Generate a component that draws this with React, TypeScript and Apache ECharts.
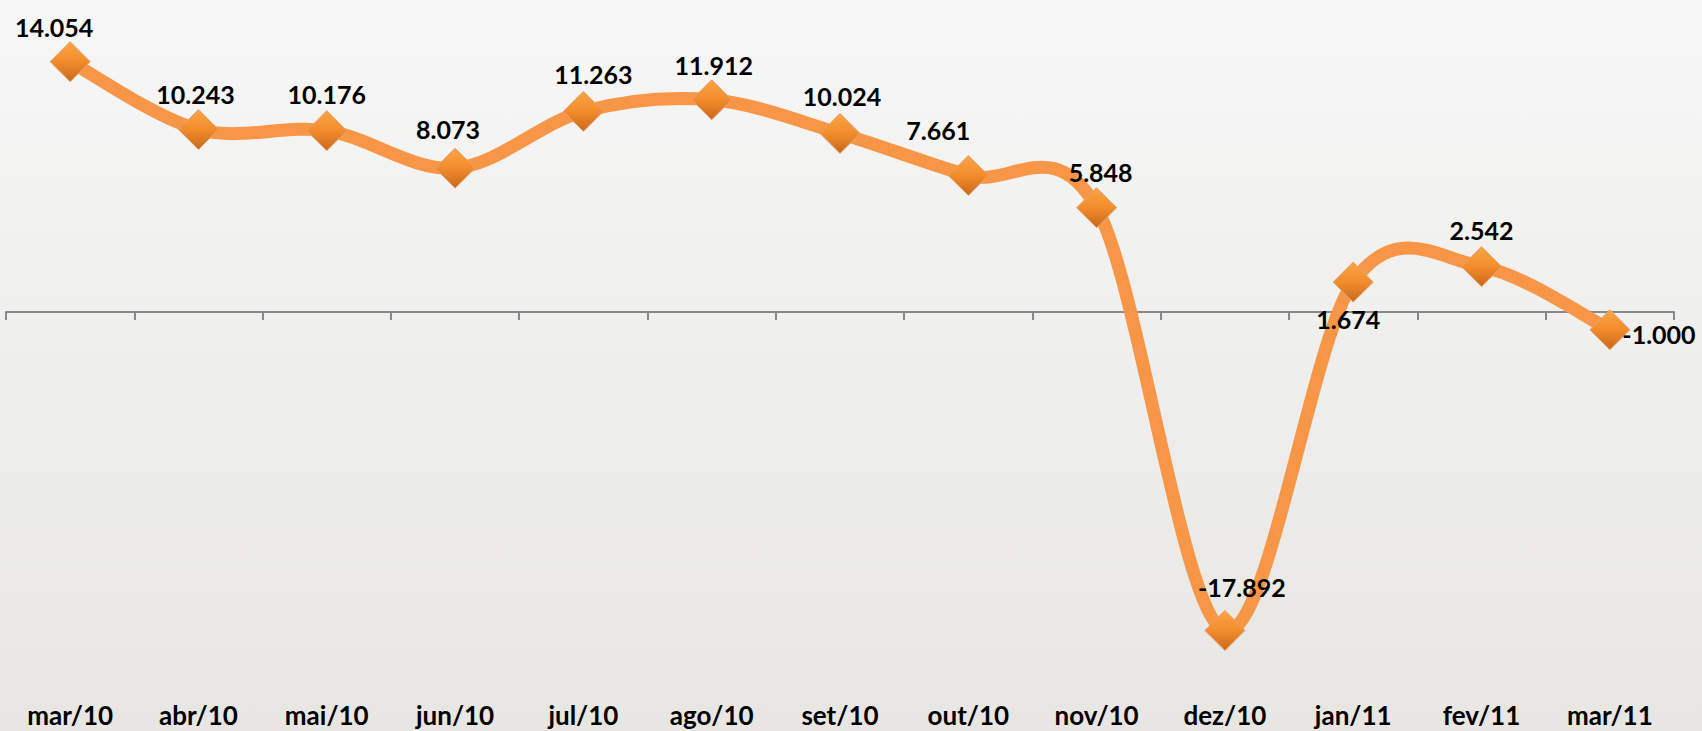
import React, { useEffect, useRef } from "react";
import * as echarts from "echarts";

const categories = ["mar/10", "abr/10", "mai/10", "jun/10", "jul/10", "ago/10", "set/10", "out/10", "nov/10", "dez/10", "jan/11", "fev/11", "mar/11"];
const values = [14.054, 10.243, 10.176, 8.073, 11.263, 11.912, 10.024, 7.661, 5.848, -17.892, 1.674, 2.542, -1.0];
const labelPositions = ["top", "top", "top", "top", "top", "top", "top", "top", "top", "top", "bottom", "top", "right"];
const labelOffsets: number[][] = [[-16, 2], [-3, 1], [0, 0], [-7, -2], [10, 0], [2, 2], [2, 0], [-30, -8], [4, 1], [17, -6], [-5, 0], [0, 0], [-12, 4]];

const fmt = (v: number) => v.toFixed(3);

export default function App() {
  const ref = useRef<HTMLDivElement>(null);
  useEffect(() => {
    if (!ref.current) return;
    const chart = echarts.init(ref.current, undefined, { renderer: "svg" });
    const orange = "#F79646";
    const n = values.length;
    chart.setOption({
      animation: false,
      backgroundColor: new echarts.graphic.LinearGradient(0, 0, 0, 1, [
        { offset: 0, color: "#F7F7F7" },
        { offset: 1, color: "#E7E6E2" },
      ]),
      grid: { left: 6, right: 28, top: 27, height: 641, containLabel: false },
      xAxis: [
        {
          type: "category",
          data: categories,
          boundaryGap: true,
          axisLine: { onZero: true, lineStyle: { color: "#888888", width: 2 } },
          axisTick: { show: true, length: 8, lineStyle: { color: "#888888", width: 2 } },
          axisLabel: { show: false },
        },
        {
          type: "category",
          data: categories,
          position: "bottom",
          boundaryGap: true,
          axisLine: { show: false, onZero: false },
          axisTick: { show: false },
          axisLabel: {
            show: true,
            margin: 34,
            fontFamily: "Lato",
            fontWeight: "bold",
            fontSize: 26,
            color: "#000000",
          },
        },
      ],
      yAxis: {
        type: "value",
        min: -20,
        max: 16,
        show: false,
        splitLine: { show: false },
      },
      series: [
        {
          type: "custom",
          xAxisIndex: 0,
          data: values.map((v, i) => [i, v]),
          encode: { x: 0, y: 1 },
          clip: false,
          silent: true,
          z: 2,
          renderItem: (params: any, api: any) => {
            const i = params.dataIndex;
            if (i >= n - 1) return null;
            const p = (k: number) => {
              const kk = Math.max(0, Math.min(n - 1, k));
              return api.coord([kk, values[kk]]);
            };
            const P0 = p(i - 1);
            const P1 = p(i);
            const P2 = p(i + 1);
            const P3 = p(i + 2);
            const t = 1 / 6;
            return {
              type: "bezierCurve",
              shape: {
                x1: P1[0],
                y1: P1[1],
                cpx1: P1[0] + (P2[0] - P0[0]) * t,
                cpy1: P1[1] + (P2[1] - P0[1]) * t,
                cpx2: P2[0] - (P3[0] - P1[0]) * t,
                cpy2: P2[1] - (P3[1] - P1[1]) * t,
                x2: P2[0],
                y2: P2[1],
              },
              style: { stroke: orange, lineWidth: 13, fill: "none", lineCap: "round" },
            };
          },
        },
        {
          type: "line",
          xAxisIndex: 0,
          data: values.map((v, i) => ({
            value: v,
            label: {
              position: labelPositions[i],
              offset: labelOffsets[i],
            },
          })),
          lineStyle: { width: 0, opacity: 0 },
          symbol: "diamond",
          symbolSize: 40,
          itemStyle: {
            color: new echarts.graphic.LinearGradient(0, 0, 0, 1, [
              { offset: 0, color: "#FBA545" },
              { offset: 0.5, color: "#F28C2C" },
              { offset: 1, color: "#C9681A" },
            ]),
            borderColor: "#E8A070",
            borderWidth: 1,
          },
          label: {
            show: true,
            distance: 4,
            formatter: (p: any) => fmt(p.value),
            fontFamily: "Lato",
            fontWeight: "bold",
            fontSize: 25,
            color: "#000000",
          },
          z: 3,
        },
      ],
    });
    return () => chart.dispose();
  }, []);
  return (
    <div
      ref={ref}
      style={{ position: "fixed", left: 0, top: 0, width: 1702, height: 731 }}
    />
  );
}
